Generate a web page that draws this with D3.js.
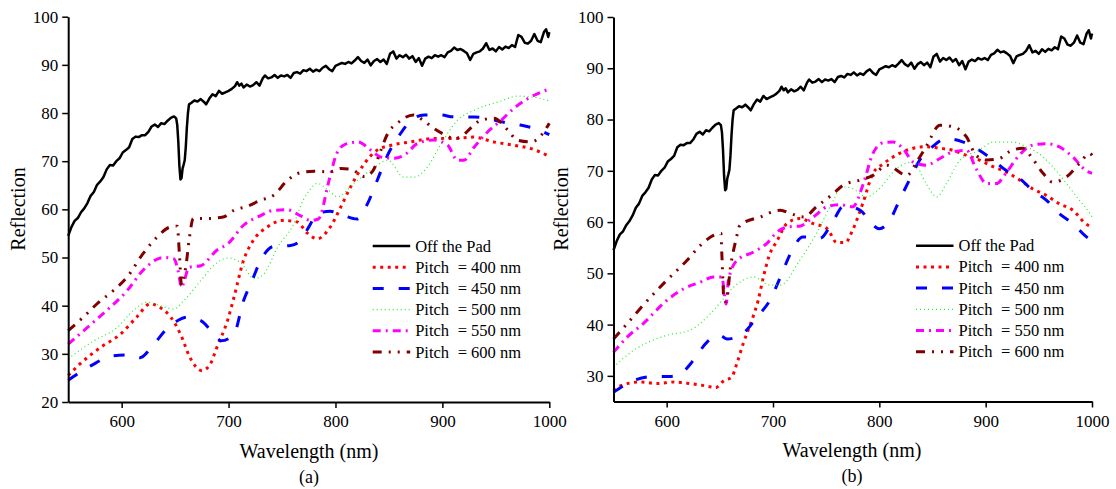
<!DOCTYPE html>
<html><head><meta charset="utf-8">
<script src="https://cdn.jsdelivr.net/npm/d3@7"></script>
<style>
body{margin:0;background:#fff}
</style>
</head><body>
<svg id="chart" width="1116" height="489"></svg>
<script>
// ---------------- DATA ----------------
const xTicks = [600, 700, 800, 900, 1000];
const yTicksA = [20, 30, 40, 50, 60, 70, 80, 90, 100];
const yTicksB = [30, 40, 50, 60, 70, 80, 90, 100];
const seriesLabels = ["Off the Pad", "Pitch = 400 nm", "Pitch = 450 nm", "Pitch = 500 nm", "Pitch = 550 nm", "Pitch = 600 nm"];
const panelLabels = ["(a)", "(b)"];

// Off the Pad (same in both panels)
const padWl = [550,553,556,559,562,565,568,571,574,577,580,583,586,589,592,595,598,601,604,607,610,613,616,619,622,625,628,631,634,637,640,643,646,649,651,652,653,654,655,656,657,658,659,660,661,662,663,665,668,671,674,677,679,682,685,688,691,694,697,700,703,706,708,710,712,714,717,720,723,726,729,732,734,737,740,743,746,749,752,755,758,761,764,767,770,773,776,779,782,785,788,791,794,797,800,803,806,809,812,815,818,821,824,827,830,833,836,839,842,845,848,851,854,857,860,863,866,869,872,875,878,881,884,887,890,893,896,899,902,905,908,911,914,917,920,923,926,929,932,935,938,941,944,947,950,953,956,959,962,965,968,971,974,977,980,983,986,989,992,995,997,999,1000];
const padR  = [54.5,56.3,57.6,58.2,59.4,60.2,61.3,62.8,63.6,65.1,65.8,66.7,68.3,69.2,69.1,70.0,70.6,71.8,72.3,72.9,74.6,75.1,75.0,75.4,75.4,76.1,77.2,77.6,77.1,77.9,77.7,78.4,79.0,79.3,78.9,77.5,74.0,69.0,66.2,66.5,68.5,69.3,70.2,73.0,77.0,80.0,81.8,82.1,82.6,82.4,82.9,82.3,81.8,83.0,83.9,83.5,84.6,84.0,84.3,84.6,85.0,85.6,86.4,85.7,86.1,85.3,85.9,85.5,85.8,86.4,85.7,87.2,87.8,87.2,87.4,87.9,87.3,87.8,87.6,87.9,87.3,88.3,88.5,88.2,88.9,88.7,89.2,88.6,89.0,88.7,89.4,89.8,89.1,88.7,89.8,90.1,90.4,90.2,90.6,90.3,90.9,91.6,90.8,90.4,91.1,89.9,90.8,91.2,90.6,91.1,90.2,92.3,92.8,91.3,92.0,91.6,92.1,91.3,91.8,90.6,91.4,89.8,91.3,91.7,91.4,92.0,91.7,92.0,91.6,92.6,92.9,93.6,93.1,93.3,92.9,92.4,91.0,92.3,92.6,92.8,93.4,94.5,93.1,93.4,92.8,93.7,93.2,93.8,93.5,94.1,93.7,96.2,95.8,94.6,94.4,95.0,96.4,95.0,94.7,96.8,97.4,95.8,96.8];

// Panel (a)
const a400Wl = [550,561,580,599,614,627,636,646,655,664,675,683,689,699,705,714,723,736,751,764,774,783,795,805,814,827,839,852,870,892,911,929,948,967,983,1000];
const a400R  = [25.5,27.9,31.3,34.1,37.6,40.4,39.6,37.6,34.1,29.2,26.5,27.9,31.3,36.9,41.7,49.4,53.5,56.3,57.7,57.4,55.0,53.9,56.3,60.5,64.6,69.5,72.3,73.3,74.0,74.7,74.7,75.0,74.0,73.3,72.6,71.0];
const a450Wl = [550,571,592,608,617,630,642,655,661,674,689,693,705,714,722,730,742,758,767,775,783,795,808,820,830,839,848,861,873,883,898,911,930,942,955,973,986,1000];
const a450R  = [24.5,27.5,29.6,29.8,29.2,32.0,35.1,37.2,37.6,36.9,33.4,32.7,34.1,41.0,45.2,49.4,52.3,52.5,53.5,56.3,59.1,59.6,58.7,58.0,61.2,66.0,70.9,75.8,78.9,79.6,79.6,79.2,79.2,78.9,78.2,77.5,76.8,75.5];
const a500Wl = [550,574,596,611,624,636,649,658,674,686,699,711,724,733,746,761,770,777,783,793,802,817,833,849,864,874,886,899,914,930,955,970,985,1000];
const a500R  = [29.0,32.7,35.5,39.0,40.7,40.0,39.3,41.0,45.2,48.3,49.9,49.0,45.6,46.6,52.2,57.0,62.0,64.3,65.4,64.0,62.6,65.4,68.1,70.2,66.7,66.7,68.8,73.7,78.5,80.6,82.5,83.5,83.3,82.5];
const a550Wl = [550,568,586,605,621,639,649,653,656,659,663,674,689,700,714,730,742,755,767,777,784,794,801,809,821,833,842,855,864,877,892,905,914,920,930,942,955,967,980,1000];
const a550R  = [32.0,35.5,39.0,43.1,47.6,50.0,49.7,47.0,43.8,45.5,48.0,48.3,51.5,53.0,56.7,58.7,59.8,59.9,58.7,57.7,58.0,66.0,71.5,73.5,74.0,72.3,70.9,70.6,71.2,73.7,74.4,73.3,70.2,70.2,73.0,76.0,78.5,81.0,83.0,85.0];
const a600Wl = [550,564,577,592,605,620,633,645,652,654,656,658,660,663,667,680,695,705,717,730,742,755,767,780,795,805,815,827,835,842,849,858,873,882,892,902,911,917,927,936,948,961,970,983,995,1000];
const a600R  = [34.8,37.6,40.4,43.1,45.9,50.8,54.2,56.3,56.5,50.8,44.2,46.0,48.0,53.5,58.1,58.1,58.4,59.8,60.6,61.9,62.9,66.0,67.6,67.9,67.8,68.5,68.3,66.8,68.0,72.0,75.8,77.9,79.6,78.5,76.8,75.5,74.7,75.0,77.0,78.5,78.9,76.5,74.4,74.0,76.1,77.9];

// Panel (b)
const b400Wl = [550,557,575,591,607,622,638,646,654,661,666,672,680,686,691,696,704,713,725,738,751,760,768,775,785,794,804,819,832,844,857,869,882,894,907,919,932,944,957,969,982,994,1000];
const b400R  = [27.1,28.1,28.8,28.5,28.8,28.5,28.0,27.7,29.1,29.7,32.4,36.3,40.8,44.7,49.3,53.2,56.4,59.7,60.7,59.7,58.7,56.0,56.0,58.5,64.0,69.5,71.4,73.4,74.4,74.7,74.4,74.0,73.0,72.1,70.8,69.8,68.2,66.5,65.2,63.6,62.3,59.7,59.0];
const b450Wl = [550,569,588,604,613,625,638,650,657,669,675,685,697,707,718,728,744,757,766,770,782,794,800,810,819,829,838,850,863,879,894,907,919,932,944,957,969,982,997,1000];
const b450R  = [26.8,29.1,29.9,29.9,30.4,33.0,36.6,37.9,37.2,37.9,38.9,41.5,44.7,49.3,54.5,57.1,56.8,60.4,63.0,63.0,62.3,59.4,58.7,60.4,64.3,68.5,72.1,74.7,76.3,75.6,74.0,72.1,70.1,68.5,66.2,64.3,61.7,59.7,56.8,56.5];
const b500Wl = [550,569,600,622,641,652,663,682,697,707,725,741,757,765,775,788,800,816,832,844,854,863,876,894,907,925,938,954,963,976,988,998,1000];
const b500R  = [31.7,35.0,37.9,38.9,42.1,44.7,47.3,49.3,47.7,47.7,52.5,57.8,64.3,66.9,66.5,64.9,66.5,70.4,71.7,67.5,64.9,67.5,72.1,74.0,75.6,75.6,74.7,72.7,70.8,67.5,64.3,61.7,61.0];
const b550Wl = [550,563,578,600,616,632,644,652,655,656,658,666,682,694,704,716,725,738,751,763,775,785,794,804,813,822,832,844,857,869,882,891,901,910,919,929,944,957,969,982,994,1000];
const b550R  = [34.6,37.6,40.2,44.7,47.0,48.3,49.3,49.3,44.7,44.0,48.6,52.5,54.2,55.8,58.1,59.1,59.2,61.0,63.0,63.4,63.0,67.5,73.4,75.5,75.6,74.4,71.7,71.1,72.4,73.7,74.0,70.4,67.5,67.5,69.5,72.4,75.0,75.3,74.7,72.7,70.1,69.5];
const b600Wl = [550,563,575,597,619,632,644,651,652,654,656,660,665,669,688,707,716,729,741,757,766,782,794,807,826,835,844,857,869,882,891,901,913,922,935,944,954,963,976,988,998,1000];
const b600R  = [37.2,40.2,43.1,48.0,52.5,55.5,57.4,57.8,53.2,44.7,44.5,51.2,56.4,59.4,61.0,62.3,61.7,61.0,63.0,65.6,67.2,68.2,69.1,71.1,69.1,71.7,74.7,78.9,78.6,76.6,73.0,72.1,72.4,73.7,74.4,72.4,69.5,67.8,68.8,71.4,73.4,73.0];

// ---------------- STYLE ----------------
const FONT = "Tinos, 'Times New Roman', Times, 'Nimbus Roman', 'Nimbus Roman No9 L', 'Noto Serif', 'Liberation Serif', 'DejaVu Serif', FreeSerif, Georgia, serif";
const styles = [
  {color:"#000000", dash:null,             width:2.5, smooth:false},
  {color:"#ff0000", dash:"3,4.5",          width:3,   smooth:true},
  {color:"#0000ff", dash:"11,15",          width:3,   smooth:true},
  {color:"#22ee22", dash:"1,3",            width:1.2, smooth:true},
  {color:"#ff00ff", dash:"8,5,2,5",        width:3,   smooth:true},
  {color:"#800000", dash:"9,7,2,7,2,7",    width:3,   smooth:true}
];

const panels = [
  {label:panelLabels[0], xr:[68.2,549.3], yr:[402,16.7], yDom:[20,100], yTicks:yTicksA,
   series:[[padWl,padR],[a400Wl,a400R],[a450Wl,a450R],[a500Wl,a500R],[a550Wl,a550R],[a600Wl,a600R]],
   legX:372.7, legY:246, yTitleX:17.5, xTitleX:309, xTitleY:458, labY:483},
  {label:panelLabels[1], xr:[613.5,1092], yr:[401.5,17], yDom:[25,100], yTicks:yTicksB,
   series:[[padWl,padR],[b400Wl,b400R],[b450Wl,b450R],[b500Wl,b500R],[b550Wl,b550R],[b600Wl,b600R]],
   legX:916, legY:245.7, yTitleX:561, xTitleX:852, xTitleY:456.5, labY:482}
];

const svg = d3.select("#chart");
svg.append("rect").attr("width",1116).attr("height",489).attr("fill","#fff");

function txt(sel){ return sel.attr("font-family",FONT).style("font-family",FONT).attr("fill","#000"); }

panels.forEach(p => {
  const x = d3.scaleLinear().domain([550,1000]).range(p.xr);
  const y = d3.scaleLinear().domain(p.yDom).range(p.yr);
  const g = svg.append("g");

  const order = [1,2,3,4,5,0];
  order.forEach(i => {
    const [wl, r] = p.series[i];
    const st = styles[i];
    const pts = wl.map((w,k)=>[w, r[k]]);
    const line = d3.line().x(d=>x(d[0])).y(d=>y(d[1]))
      .curve(st.smooth ? d3.curveMonotoneX : d3.curveLinear);
    g.append("path").datum(pts)
      .attr("d", line)
      .attr("fill","none")
      .attr("stroke", st.color)
      .attr("stroke-width", st.width)
      .attr("stroke-linejoin","round")
      .attr("stroke-dasharray", st.dash);
  });

  const xAxis = d3.axisBottom(x).tickValues(xTicks).tickSize(6).tickSizeOuter(0).tickPadding(7).tickFormat(d3.format("d"));
  const yAxis = d3.axisLeft(y).tickValues(p.yTicks).tickSize(6).tickSizeOuter(0).tickPadding(4).tickFormat(d3.format("d"));
  const gx = g.append("g").attr("transform",`translate(0,${p.yr[0]})`).call(xAxis);
  const gy = g.append("g").attr("transform",`translate(${p.xr[0]},0)`).call(yAxis);
  [gx,gy].forEach(a=>{
    a.attr("font-family",FONT);
    a.select(".domain").attr("stroke","#000").attr("stroke-width",2);
    a.selectAll(".tick line").attr("stroke","#000").attr("stroke-width",1.5);
    txt(a.selectAll(".tick text")).attr("font-size",17);
  });

  txt(g.append("text")).attr("transform",`translate(${p.yTitleX},209) rotate(-90)`)
    .attr("text-anchor","middle").attr("dominant-baseline","central").attr("font-size",20).text("Reflection");
  txt(g.append("text")).attr("x",p.xTitleX).attr("y",p.xTitleY).attr("text-anchor","middle").attr("font-size",20).text("Wavelength (nm)");
  txt(g.append("text")).attr("x",p.xTitleX).attr("y",p.labY).attr("text-anchor","middle").attr("font-size",18).text(p.label);

  const lg = g.append("g");
  seriesLabels.forEach((lab,i)=>{
    const yy = p.legY + i*21.2;
    const st = styles[i];
    lg.append("line").attr("x1",p.legX).attr("x2",p.legX+37.5).attr("y1",yy).attr("y2",yy)
      .attr("stroke",st.color).attr("stroke-width",st.width).attr("stroke-dasharray",st.dash);
    if (i===0) {
      txt(lg.append("text")).attr("x",p.legX+42.5).attr("y",yy+5.5).attr("font-size",16.5).text(lab);
    } else {
      const parts = lab.split(" = ");
      txt(lg.append("text")).attr("x",p.legX+42.5).attr("y",yy+5.5).attr("font-size",16.5).text(parts[0]);
      txt(lg.append("text")).attr("x",p.legX+85).attr("y",yy+5.5).attr("font-size",16.5).text("= " + parts[1]);
    }
  });
});
</script>
</body></html>
